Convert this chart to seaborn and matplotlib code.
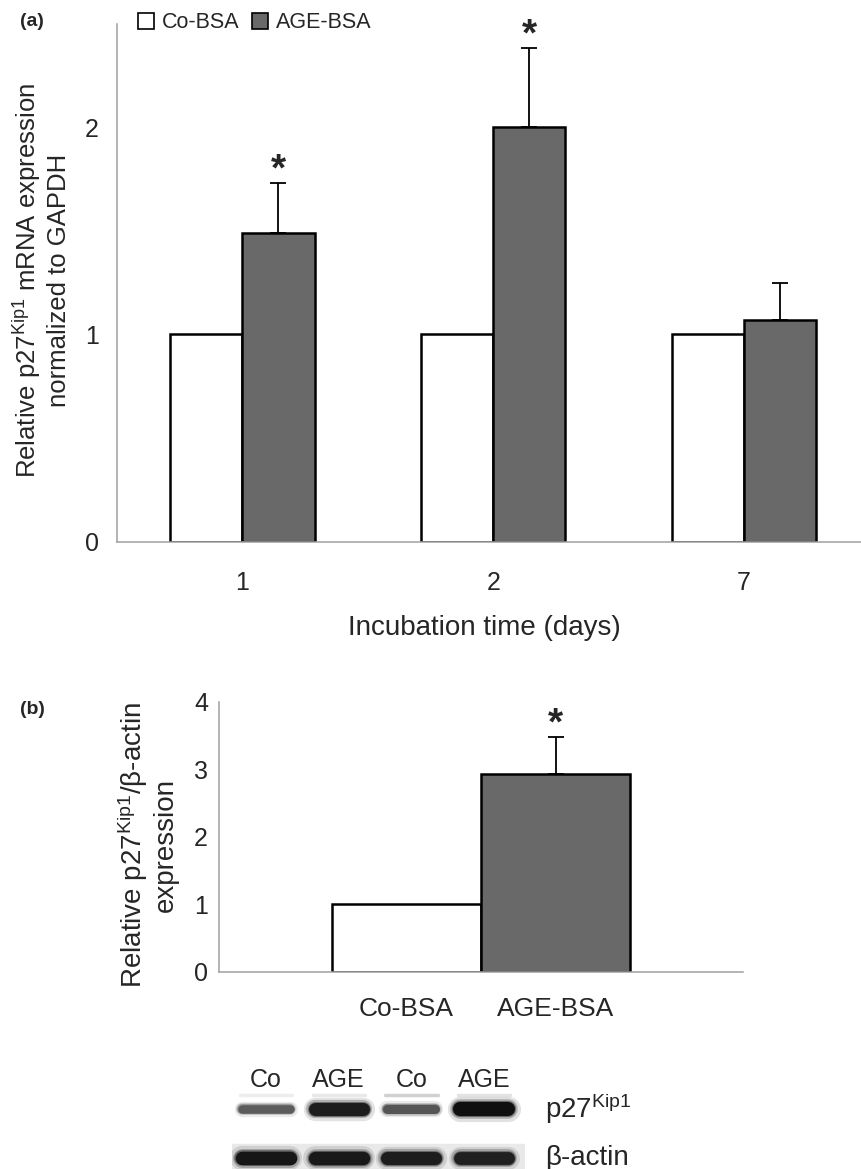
import numpy as np
import pandas as pd
import matplotlib
matplotlib.use('Agg')
import matplotlib.pyplot as plt
import seaborn as sns
from matplotlib.patches import Patch

# ---- data ----
days = ['1', '2', '7']
treatments = ['Co-BSA', 'AGE-BSA']
mrna_co = [1.0, 1.0, 1.0]
mrna_age = [1.49, 2.0, 1.07]
mrna_age_err = [0.24, 0.38, 0.18]
mrna_sig = [True, True, False]

protein_values = [1.0, 2.93]
protein_err = [0.0, 0.54]
protein_sig = [False, True]

blot_lanes = ['Co', 'AGE', 'Co', 'AGE']
blot_rows = ['p27$^{\\mathrm{Kip1}}$', 'β-actin']
p27_signal = [0.45, 0.9, 0.5, 1.0]
actin_signal = [0.95, 0.93, 0.9, 0.88]
nonspecific_signal = [0.12, 0.15, 0.3, 0.18]

sns.set_style('white')
plt.rcParams['font.family'] = ['Liberation Sans', 'DejaVu Sans']
plt.rcParams['mathtext.fontset'] = 'custom'
plt.rcParams['mathtext.rm'] = 'Liberation Sans'
plt.rcParams['mathtext.it'] = 'Liberation Sans:italic'
plt.rcParams['mathtext.bf'] = 'Liberation Sans:bold'

W, H = 861, 1169
AXIS_GREY = '#a0a0a0'
BAR_GREY = '#696969'
palette = {'Co-BSA': 'white', 'AGE-BSA': BAR_GREY}


def px_rect(l, t, r, b):
    return [l / W, 1 - b / H, (r - l) / W, (b - t) / H]


def style_axis(ax):
    for s in ['top', 'right']:
        ax.spines[s].set_visible(False)
    for s in ['left', 'bottom']:
        ax.spines[s].set_color(AXIS_GREY)
        ax.spines[s].set_linewidth(1.1)
    ax.set_xlabel('')
    ax.set_ylabel('')


def add_errors_and_stars(ax, bars, errs, sig):
    xs = [b.get_x() + b.get_width() / 2 for b in bars]
    tops = [b.get_height() for b in bars]
    ax.errorbar(xs, tops, yerr=[np.zeros(len(errs)), errs], fmt='none',
                ecolor='black', elinewidth=1.3, capsize=6, capthick=1.3, zorder=5)
    for x, t, e, s in zip(xs, tops, errs, sig):
        if s:
            ax.annotate('*', (x, t + e), xytext=(0, 2), textcoords='offset points',
                        ha='center', va='baseline', fontsize=28, fontweight='bold')


fig = plt.figure(figsize=(W / 100, H / 100), dpi=100)

# ---- panel (a) ----
ax1 = fig.add_axes(px_rect(117, 23.5, 869.5, 541.7))
df_a = pd.DataFrame({'day': days * 2,
                     'treatment': ['Co-BSA'] * len(days) + ['AGE-BSA'] * len(days),
                     'value': mrna_co + mrna_age})
sns.barplot(data=df_a, x='day', y='value', hue='treatment', order=days,
            hue_order=treatments, palette=palette, width=0.575, saturation=1,
            edgecolor='black', linewidth=1.8, errorbar=None, legend=False, ax=ax1)
add_errors_and_stars(ax1, ax1.containers[1], mrna_age_err, mrna_sig)
style_axis(ax1)
ax1.set_xlim(-0.5, 2.5)
ax1.set_ylim(0, 2.5)
ax1.set_yticks(np.arange(0, 2.51, 0.5))
ax1.set_yticklabels(['0', '', '1', '', '2', ''])
ax1.set_xticks([-0.5, 0.5, 1.5, 2.5])
ax1.set_xticklabels([])
ax1.set_xticks([0, 1, 2], minor=True)
ax1.set_xticklabels(days, minor=True)
ax1.tick_params(which='major', direction='out', length=5, width=1.1,
                color=AXIS_GREY, labelsize=18, pad=8)
ax1.tick_params(axis='x', which='minor', length=0, labelsize=18, pad=21)

fig.text(41 / W, 1 - 280 / H,
         'Relative p27$^{\\mathrm{Kip1}}$ mRNA expression\nnormalized to GAPDH',
         rotation=90, ha='center', va='center', fontsize=18.5,
         multialignment='center', linespacing=1.2)
fig.text(484 / W, 1 - 628 / H, 'Incubation time (days)', ha='center', va='center',
         fontsize=20)
fig.text(20 / W, 1 - 22 / H, '(a)', fontweight='bold', fontsize=14, va='center')

handles = [Patch(facecolor=palette[t], edgecolor='black', linewidth=1.2) for t in treatments]
fig.legend(handles, treatments, loc='center left', bbox_to_anchor=(138 / W, 1 - 23 / H),
           ncol=2, frameon=False, fontsize=15.5, handlelength=0.75, handleheight=0.75,
           handletextpad=0.35, columnspacing=0.6, borderpad=0, borderaxespad=0)

# ---- panel (b) ----
ax2 = fig.add_axes(px_rect(219, 701.7, 743, 971.8))
df_b = pd.DataFrame({'group': ['p27'] * 2, 'treatment': treatments, 'value': protein_values})
sns.barplot(data=df_b, x='group', y='value', hue='treatment', hue_order=treatments,
            palette=palette, width=0.57, saturation=1, edgecolor='black',
            linewidth=1.8, errorbar=None, legend=False, ax=ax2)
bar_sets = list(ax2.containers[:2])
centers = [c[0].get_x() + c[0].get_width() / 2 for c in bar_sets]
add_errors_and_stars(ax2, bar_sets[1], [protein_err[1]], [protein_sig[1]])
style_axis(ax2)
ax2.set_xlim(-0.5, 0.5)
ax2.set_ylim(0, 4)
ax2.set_yticks(np.arange(0, 4.01, 0.5))
ax2.set_yticklabels(['0', '', '1', '', '2', '', '3', '', '4'])
ax2.set_xticks([-0.5, 0.5])
ax2.set_xticklabels([])
ax2.set_xticks(centers, minor=True)
ax2.set_xticklabels(treatments, minor=True)
ax2.tick_params(which='major', direction='out', length=3, width=1.1,
                color=AXIS_GREY, labelsize=18, pad=5)
ax2.tick_params(axis='x', which='minor', length=0, labelsize=19, pad=18)

fig.text(147 / W, 1 - 845 / H, 'Relative p27$^{\\mathrm{Kip1}}$/β-actin\nexpression',
         rotation=90, ha='center', va='center', fontsize=20,
         multialignment='center', linespacing=1.15)
fig.text(20 / W, 1 - 710 / H, '(b)', fontweight='bold', fontsize=14, va='center')

# ---- western blot ----
ax3 = fig.add_axes(px_rect(232, 1090, 525, 1169))
ax3.set_xlim(-0.468, 3.564)
ax3.set_ylim(1.224, -0.388)
ax3.axis('off')
ax3.axhspan(0.72, 1.224, color='#e9e9e9', zorder=0)
lanes = np.arange(len(blot_lanes))
for i in lanes:
    # faint nonspecific band above p27
    g = 1 - nonspecific_signal[i] * 0.6
    ax3.plot([i - 0.36, i + 0.36], [-0.28, -0.28], color=str(g), lw=2.5,
             solid_capstyle='round', zorder=1)
    for row, sig in ((0, p27_signal[i]), (1, actin_signal[i])):
        shade = 0.06 + (1 - sig) * 0.55
        lw = (4 + 10 * sig) * 0.72
        for scale, alpha in ((1.8, 0.12), (1.4, 0.25), (1.15, 0.45)):
            ax3.plot([i - 0.33, i + 0.33], [row, row], color=str(shade),
                     lw=lw * scale, alpha=alpha, solid_capstyle='round', zorder=2)
        ax3.plot([i - 0.33, i + 0.33], [row, row], color=str(shade), lw=lw,
                 solid_capstyle='round', zorder=3)
    ax3.text(i, -0.6, blot_lanes[i], ha='center', va='center', fontsize=18, clip_on=False)
for r, lab in enumerate(blot_rows):
    ax3.text(3.84, r, lab, ha='left', va='center', fontsize=20, clip_on=False)

fig.savefig('out.png', dpi=100)
